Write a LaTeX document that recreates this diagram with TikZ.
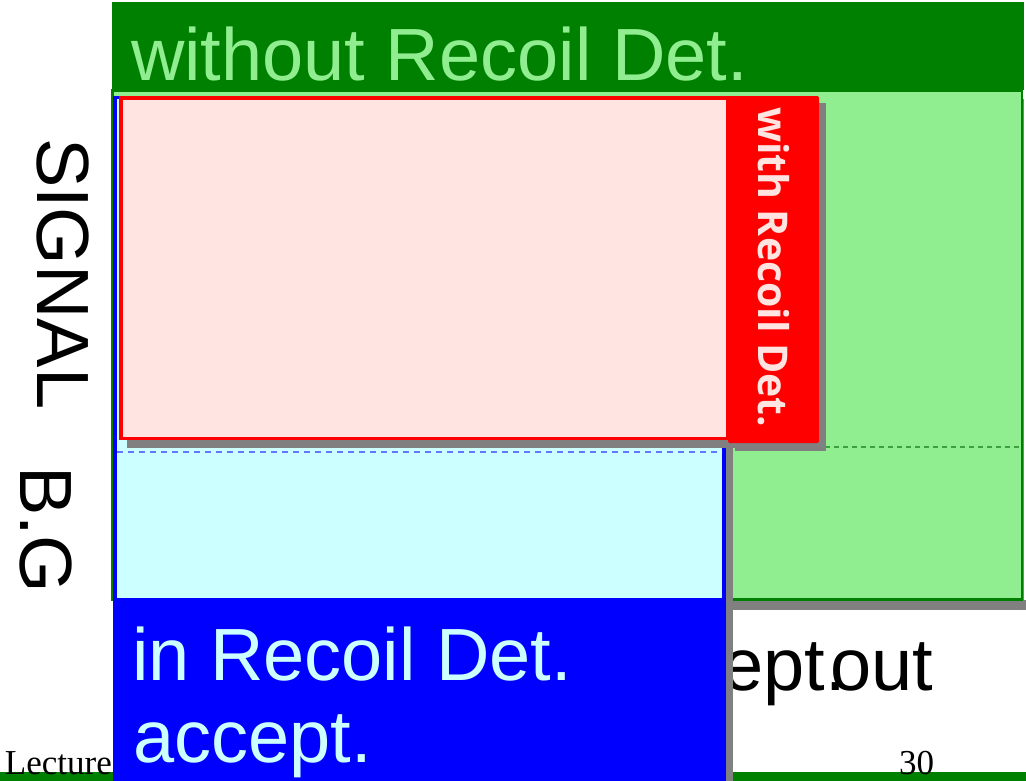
\documentclass[tikz,border=0pt]{standalone}
\usepackage{fontspec}
\setmainfont{Liberation Serif}
\newfontfamily\arialfont{Liberation Sans}
\newfontfamily\labelfont{Open Sans}
\definecolor{hdrgreen}{HTML}{008000}
\definecolor{paleGreen}{HTML}{90EE90}
\definecolor{paleRose}{HTML}{FFE4E1}
\definecolor{paleCyan}{HTML}{CCFFFF}
\definecolor{pureBlue}{HTML}{0000FF}
\definecolor{pureRed}{HTML}{FF0000}
\definecolor{shade}{HTML}{808080}
\definecolor{gdashc}{HTML}{3CA03C}
\definecolor{bdashc}{HTML}{6677FF}
\tikzset{
  panel/.style={rectangle, anchor=north west, inner sep=0pt, outer sep=0pt},
  shadowbox/.style={panel, fill=shade},
  bigtext/.style={inner sep=0pt, outer sep=0pt, font=\arialfont\fontsize{74}{82}\selectfont},
  foottext/.style={inner sep=0pt, outer sep=0pt, font=\fontsize{35}{40}\selectfont},
  sidelabel/.style={inner sep=0pt, outer sep=0pt, text=paleRose,
    font=\labelfont\bfseries\fontsize{41}{47}\selectfont},
}
\begin{document}
\begin{tikzpicture}[x=1pt, y=-1pt]
\useasboundingbox (0,0) rectangle (1026,780);

% slide footer
\fill[hdrgreen] (0,772) rectangle (1030,784);
\node[foottext, anchor=base west] (lecture) at (5,774) {Lecture};
\node[foottext, anchor=base west] (pageno) at (899,774) {30};

% labels lying under the panels
\node[bigtext, anchor=base east] (acceptword) at (846,690) {accept.};
\node[bigtext, anchor=base west] (outword) at (830,690) {out};
\node[bigtext, rotate=-90, anchor=base west] (signal) at (37,138) {SIGNAL};
\node[bigtext, rotate=-90, anchor=base west] (bgword) at (20,466) {B.G};

% panel without recoil detector
\node[shadowbox, minimum width=904pt, minimum height=511pt] (gshadow) at (120,99) {};
\node[shadowbox, minimum width=300pt, minimum height=10pt] (gshadowfoot) at (726,600) {};
\node[panel, fill=hdrgreen, minimum width=912pt, minimum height=88pt] (ghead) at (112,2) {};
\node[panel, draw=hdrgreen, line width=2.5pt, fill=paleGreen,
      minimum width=909.5pt, minimum height=509pt] (gbody) at (112.5,90.5) {};
\draw[gdashc, line width=1.2pt, dash pattern=on 5pt off 4pt]
  (114,447) coordinate (gdl) -- (1020,447) coordinate (gdr);
\node[bigtext, text=paleGreen, anchor=base west] (gtitle) at (131,80) {without Recoil Det.};

% panel in recoil detector acceptance
\node[shadowbox, minimum width=612pt, minimum height=700pt] (bshadow) at (121,104) {};
\node[panel, draw=pureBlue, line width=3.4pt, fill=paleCyan,
      minimum width=609pt, minimum height=502.5pt] (bbody) at (115,97.5) {};
\node[panel, fill=pureBlue, minimum width=613pt, minimum height=190pt] (bfoot) at (113,600) {};
\draw[bdashc, line width=1.5pt, dash pattern=on 6pt off 5pt]
  (117,452) coordinate (bdl) -- (722,452) coordinate (bdr);
\node[bigtext, text=paleCyan, anchor=base west] (btitle1) at (132,680) {in Recoil Det.};
\node[bigtext, text=paleCyan, anchor=base west] (btitle2) at (133,762) {accept.};

% signal panel with recoil detector
\node[shadowbox, minimum width=609pt, minimum height=344pt] (pshadow) at (127,104) {};
\node[panel, draw=pureRed, line width=3.5pt, fill=paleRose,
      minimum width=607pt, minimum height=340.5pt] (pbody) at (121,98) {};
\node[shadowbox, minimum width=91pt, minimum height=348pt] (rshadow) at (735,103) {};
\node[panel, fill=pureRed, rounded corners=1.5pt,
      minimum width=91pt, minimum height=347pt] (rbar) at (728,96) {};
\node[sidelabel, rotate=-90, anchor=base west] (rtitle) at (758,107) {with Recoil Det.};
\end{tikzpicture}
\end{document}
